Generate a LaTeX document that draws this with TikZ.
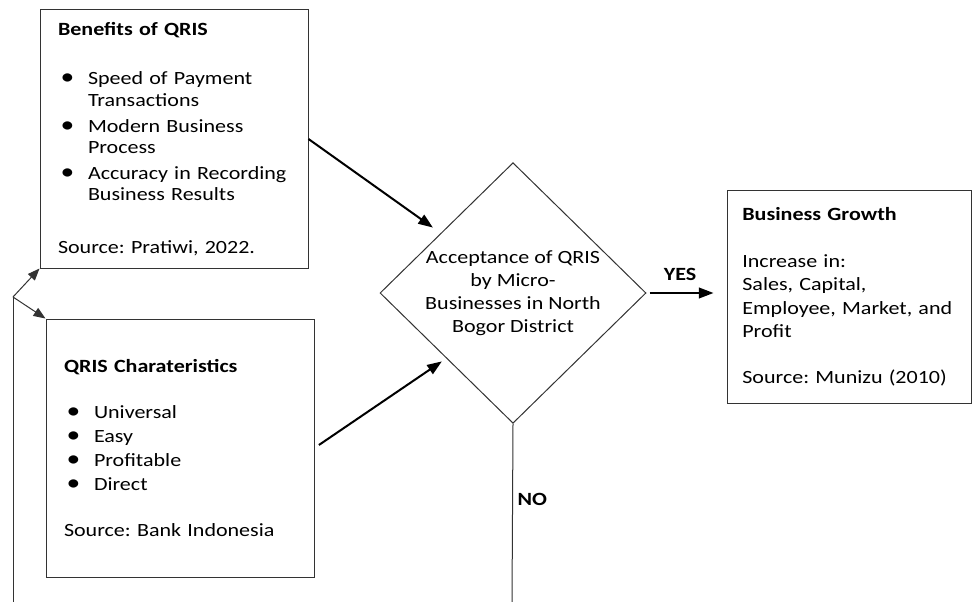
\documentclass[tikz,border=0pt]{standalone}
\usepackage{fontspec}
\setmainfont[FakeStretch=1.18]{Carlito}
\usetikzlibrary{positioning}
\usetikzlibrary{shapes.geometric, arrows.meta}

\newcommand{\bitem}{\hspace*{2pt}\makebox[20.5pt][l]{\scalebox{1.25}{\textbullet}}}
\newcommand{\bcont}{\hspace*{22.5pt}}

\begin{document}
\frenchspacing
\begin{tikzpicture}[x=0.75pt,y=-0.75pt]
    \tikzset{base/.style = {rectangle, draw=black!80, line width=0.75pt,
                           inner xsep=13.5pt, inner ysep=0pt, align=left,
                           font=\fontsize{14}{16.1}\selectfont}}
    \tikzset{infobox/.style = {base, text width=174pt, minimum height=193.5pt}}
    \tikzset{resultbox/.style = {base, inner xsep=11.5pt, text width=160pt, minimum height=159pt}}
    \tikzset{decision/.style = {diamond, draw=black!80, line width=0.75pt,
                           minimum width=199.5pt, minimum height=191.25pt,
                           inner sep=0pt, align=center,
                           font=\fontsize{14}{17.25}\selectfont}}
    \tikzset{flow/.style = {-{Triangle[length=11pt,width=8pt]}, line width=1.5pt}}
    \tikzset{fork/.style = {-{Triangle[length=9pt,width=7pt]}, line width=0.75pt, draw=black!80}}
    \tikzset{tag/.style = {font=\fontsize{14}{16}\selectfont\bfseries}}

    \useasboundingbox (0,0) rectangle (973,602);

    \node (B) [infobox] at (174,139) {\textbf{Benefits of QRIS}\\[20.6pt]
        \bitem Speed of Payment\\
        \bcont Transactions\\[3.4pt]
        \bitem Modern Business\\
        \bcont Process\\[3.4pt]
        \bitem Accuracy in Recording\\
        \bcont Business Results\\[23pt]
        Source: Pratiwi, 2022.};
    \node (C) [infobox] at (180,448) {\textbf{QRIS Charateristics}\\[18.4pt]
        \bitem Universal\\[1.9pt]
        \bitem Easy\\[1.9pt]
        \bitem Profitable\\[1.9pt]
        \bitem Direct\\[19pt]
        Source: Bank Indonesia};
    \node (D) [decision] at (513,293) {Acceptance of QRIS\\ by Micro-\\ Businesses in North\\ Bogor District};
    \node (G) [resultbox] at (849,297) {\textbf{Business Growth}\\[19pt]
        Increase in:\\[1.4pt]
        Sales, Capital,\\[1.4pt]
        Employee, Market, and\\[1.4pt]
        Profit\\[18.4pt]
        Source: Munizu (2010)};

    \coordinate (L0) at (13,602);
    \coordinate (L1) at (13,297);
    \coordinate (N0) at (512,602);

    \draw[flow] (B.east) -- ([xshift=-10pt]D.north west);
    \draw[flow, shorten <=4pt, shorten >=4pt] (C.east) -- (D.south west);
    \draw[flow, shorten <=2.25pt, shorten >=9.75pt] (D.east) -- (D.east -| G.west)
        node[tag, above=5pt, pos=0.42] (Y) {YES};
    \draw[line width=0.75pt, draw=black!80] (D.south) -- (N0)
        node[tag, right, pos=0.425] (N) {NO};

    \draw[line width=0.75pt, draw=black!80] (L0) -- (L1);
    \draw[fork] (L1) -- (B.south west);
    \draw[fork] (L1) -- (C.north west);

\end{tikzpicture}
\end{document}
